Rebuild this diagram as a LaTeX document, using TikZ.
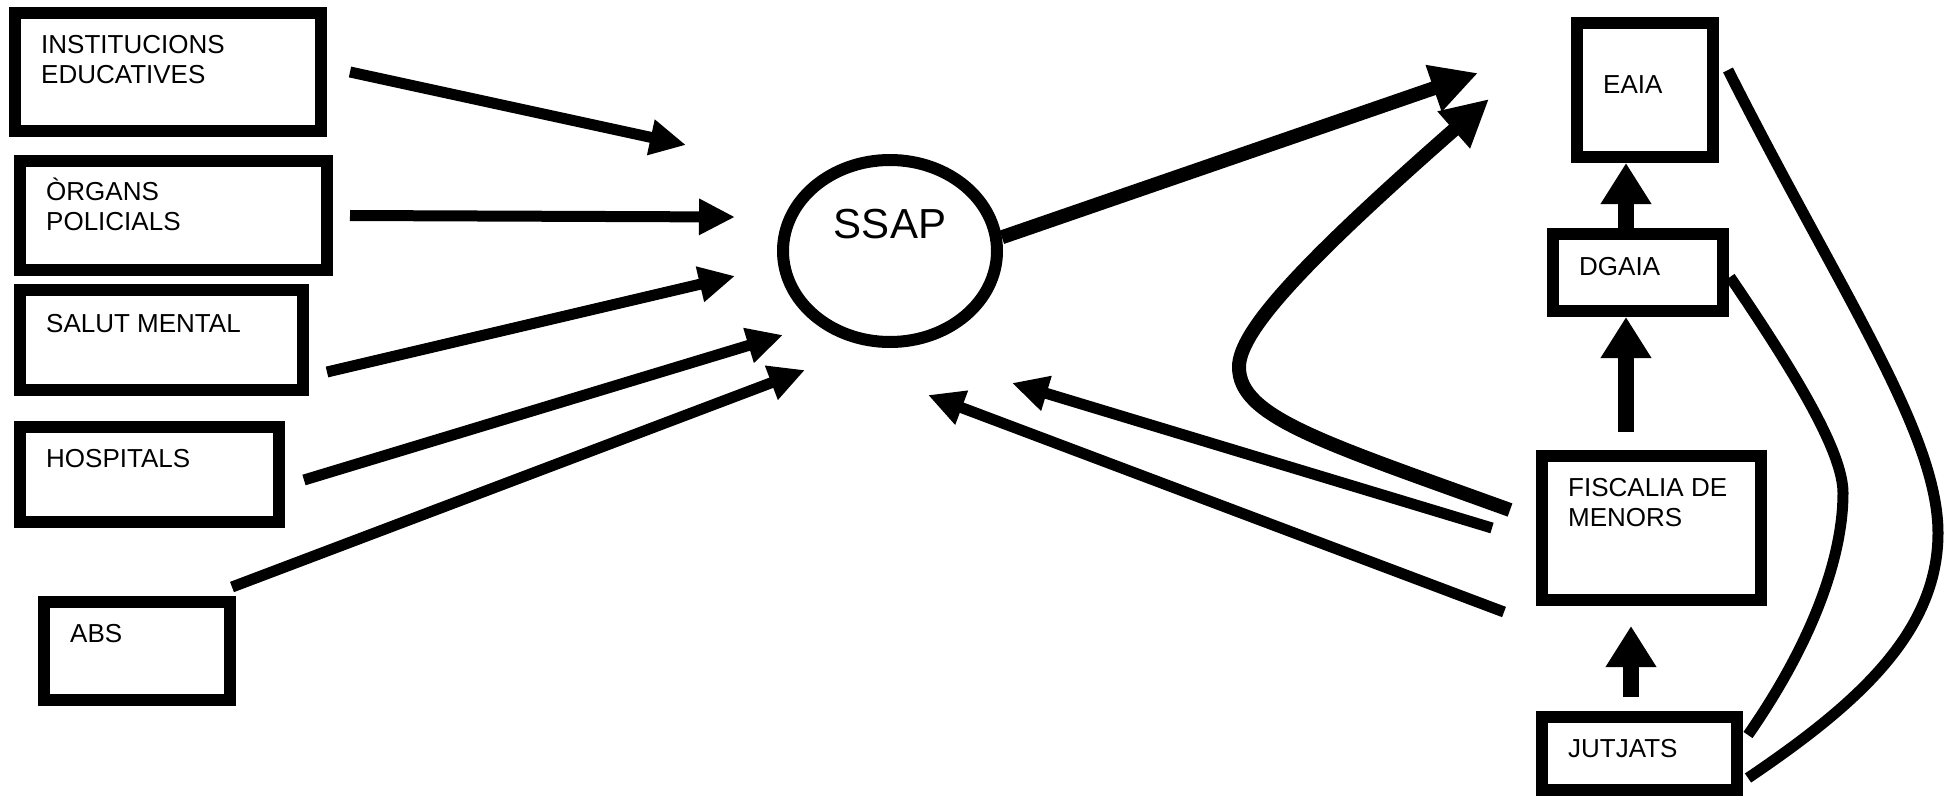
\documentclass[tikz,border=0pt]{standalone}
\usepackage{fontspec}
\setmainfont{Liberation Sans}
\usetikzlibrary{arrows.meta,shapes.geometric}

\tikzset{
  box/.style={draw, line width=12pt, inner sep=0pt},
  txt/.style={font=\fontsize{26}{30}\selectfont, align=left, inner sep=0pt, anchor=base west},
  arr/.style={line width=11pt, -{Triangle[length=36pt,width=34pt]}},
  bigarr/.style={line width=14pt, -{Triangle[length=47pt,width=46pt]}},
  uparr/.style={line width=16pt, -{Triangle[length=41pt,width=48pt]}},
  link/.style={line width=11pt},
}

\begin{document}
\begin{tikzpicture}[x=1pt, y=-1pt]
\useasboundingbox (0,0) rectangle (1955,798);

% services on the left
\node[box, minimum width=306, minimum height=118] (inst) at (168,72) {};
\node[box, minimum width=307, minimum height=109] (org) at (173.5,215.5) {};
\node[box, minimum width=283, minimum height=100] (salut) at (161.5,340) {};
\node[box, minimum width=259, minimum height=95] (hosp) at (149.5,474.5) {};
\node[box, minimum width=186, minimum height=98] (abs) at (137,651) {};

% (base of a two-line text is its last line)
\node[txt] (instT) at ([xshift=32, yshift=-76]inst.north west) {INSTITUCIONS\\EDUCATIVES};
\node[txt] (orgT) at ([xshift=32, yshift=-75]org.north west) {ÒRGANS\\POLICIALS};
\node[txt] (salutT) at ([xshift=32, yshift=-48]salut.north west) {SALUT MENTAL};
\node[txt] (hospT) at ([xshift=32, yshift=-46]hosp.north west) {HOSPITALS};
\node[txt] (absT) at ([xshift=32, yshift=-46]abs.north west) {ABS};

% social services
\node[draw, ellipse, line width=12pt, minimum width=214, minimum height=182, inner sep=0pt] (ssap) at (890,251) {};
\node[font=\fontsize{42}{50}\selectfont, inner sep=0pt, anchor=base] (ssapT) at ([yshift=13]ssap.center) {SSAP};

% protection and justice column
\node[box, minimum width=136, minimum height=134] (eaia) at (1645,90) {};
\node[box, minimum width=170, minimum height=77] (dgaia) at (1638,272.5) {};
\node[box, minimum width=219, minimum height=144] (fisc) at (1651.5,528) {};
\node[box, minimum width=195, minimum height=73] (jutj) at (1639.5,753.5) {};

\node[txt] (eaiaT) at ([xshift=32, yshift=-76]eaia.north west) {EAIA};
\node[txt] (dgaiaT) at ([xshift=32, yshift=-47]dgaia.north west) {DGAIA};
\node[txt] (fiscT) at ([xshift=32, yshift=-76]fisc.north west) {FISCALIA DE\\MENORS};
\node[txt] (jutjT) at ([xshift=32, yshift=-46]jutj.north west) {JUTJATS};

% arrow tips around SSAP
\coordinate (inInst) at (686,145);
\coordinate (inOrg) at (735,217);
\coordinate (inSalut) at (735,276);
\coordinate (inHosp) at (783,335);
\coordinate (inAbs) at (805,370);
\coordinate (inFisc) at (1012,383);
\coordinate (inFiscB) at (928,395);

\draw[arr] ([xshift=23]inst.east) -- (inInst);
\draw[arr] ([xshift=17]org.east) -- (inOrg);
\draw[arr] ([xshift=18, yshift=-32]salut.east) -- (inSalut);
\draw[arr] ([xshift=19, yshift=-5.5]hosp.east) -- (inHosp);
\draw[arr] ([xshift=-4, yshift=9]abs.north east) -- (inAbs);

\draw[bigarr] (ssap.7) -- ([xshift=-93, yshift=17]eaia.west);
\draw[bigarr] ([xshift=-26, yshift=18]fisc.west) .. controls (1322,442) and (1239,417) .. (1239,367)
  .. controls (1239,332) and (1301,264) .. ([xshift=-82, yshift=-9]eaia.west);

\draw[arr] ([xshift=-44]fisc.west) -- (inFisc);
\draw[arr] ([xshift=-32, yshift=-6]fisc.south west) -- (inFiscB);

\draw[uparr] ([xshift=-12]dgaia.north) -- ([xshift=-19]eaia.south);
\draw[uparr] ([xshift=-25.5, yshift=18]fisc.north) -- ([xshift=-12]dgaia.south);
\draw[uparr] ([xshift=-8.5, yshift=14]jutj.north) -- ([xshift=-20.5, yshift=-20]fisc.south);

% links from the courts
\draw[link] ([xshift=1, yshift=-4.5]dgaia.east) .. controls (1798,377) and (1843,453) .. (1843,493)
  .. controls (1843,553) and (1816,637) .. ([xshift=5, yshift=18.5]jutj.east);
\draw[link] ([xshift=9, yshift=20]eaia.east) .. controls (1840,292) and (1938,433) .. (1938,533)
  .. controls (1938,633) and (1856,705) .. ([xshift=5, yshift=-24.5]jutj.east);
\end{tikzpicture}
\end{document}
